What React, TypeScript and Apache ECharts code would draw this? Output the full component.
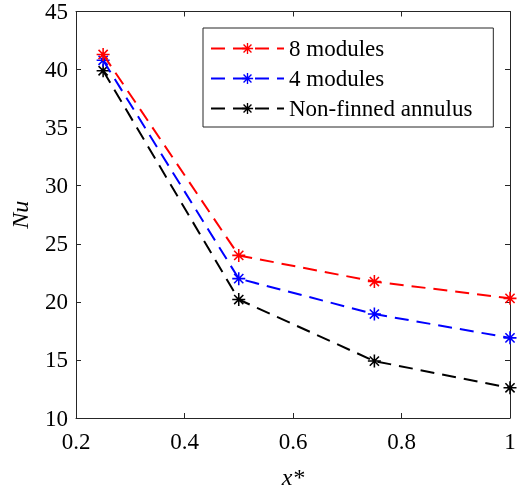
import React, { useEffect, useRef } from "react";
import * as echarts from "echarts";

const xValues = [0.25, 0.5, 0.75, 1];
const seriesNames = ["8 modules", "4 modules", "Non-finned annulus"];
const nu8 = [41.3, 24.0, 21.75, 20.3];
const nu4 = [40.8, 22.0, 18.95, 16.9];
const nuNone = [39.9, 20.2, 14.9, 12.6];
const colors = ["#ff0000", "#0000ff", "#000000"];
const xTicks = { min: 0.2, max: 1, interval: 0.2 };
const yTicks = { min: 10, max: 45, interval: 5 };

function asteriskPath(): string {
  const w = 0.12;
  let d = "";
  for (const deg of [0, 45, 90, 135]) {
    const a = (deg * Math.PI) / 180;
    const dx = Math.cos(a), dy = Math.sin(a);
    const nx = -dy * w, ny = dx * w;
    const pts = [
      [dx + nx, dy + ny],
      [dx - nx, dy - ny],
      [-dx - nx, -dy - ny],
      [-dx + nx, -dy + ny],
    ].map(([x, y]) => `${(x + 1).toFixed(4)} ${(y + 1).toFixed(4)}`);
    d += `M${pts[0]}L${pts[1]}L${pts[2]}L${pts[3]}Z`;
  }
  return "path://" + d;
}

export default function App() {
  const ref = useRef<HTMLDivElement>(null);
  useEffect(() => {
    if (!ref.current) return;
    const chart = echarts.init(ref.current, null, { renderer: "svg" });
    const font = "Liberation Serif";
    const axisColor = "#262626";
    const star = asteriskPath();
    const data = [nu8, nu4, nuNone];
    const fmt = (v: number) => String(+v.toFixed(1));
    const lineCfg = { show: true, lineStyle: { color: axisColor, width: 1 } };
    const tickCfg = { show: true, inside: true, length: 5, lineStyle: { color: axisColor } };
    chart.setOption({
      animation: false,
      grid: { left: 74, right: 10, top: 10, bottom: 74 },
      legend: {
        left: 203,
        top: 28,
        orient: "vertical",
        itemWidth: 73,
        itemHeight: 14,
        itemGap: 7,
        padding: [9, 21, 7, 7],
        borderColor: "#262626",
        borderWidth: 1,
        backgroundColor: "#ffffff",
        textStyle: { fontFamily: font, fontSize: 23, color: "#000000" },
        data: seriesNames,
      },
      xAxis: [
        {
          type: "value",
          min: xTicks.min,
          max: xTicks.max,
          interval: xTicks.interval,
          axisLine: lineCfg,
          axisTick: tickCfg,
          splitLine: { show: false },
          name: "x*",
          nameLocation: "middle",
          nameGap: 47,
          nameTextStyle: { fontFamily: font, fontSize: 24, fontStyle: "italic", color: "#000" },
          axisLabel: { fontFamily: font, fontSize: 23, color: "#000", margin: 12, formatter: fmt },
        },
        {
          type: "value",
          position: "top",
          min: xTicks.min,
          max: xTicks.max,
          interval: xTicks.interval,
          axisLine: lineCfg,
          axisTick: tickCfg,
          splitLine: { show: false },
          axisLabel: { show: false },
        },
      ],
      yAxis: [
        {
          type: "value",
          min: yTicks.min,
          max: yTicks.max,
          interval: yTicks.interval,
          axisLine: lineCfg,
          axisTick: tickCfg,
          splitLine: { show: false },
          name: "Nu",
          nameLocation: "middle",
          nameGap: 44,
          nameTextStyle: { fontFamily: font, fontSize: 24, fontStyle: "italic", color: "#000" },
          axisLabel: { fontFamily: font, fontSize: 23, color: "#000", margin: 8 },
        },
        {
          type: "value",
          position: "right",
          min: yTicks.min,
          max: yTicks.max,
          interval: yTicks.interval,
          axisLine: lineCfg,
          axisTick: tickCfg,
          splitLine: { show: false },
          axisLabel: { show: false },
        },
      ],
      series: seriesNames.map((name, i) => ({
        name,
        type: "line",
        data: xValues.map((x, j) => [x, data[i][j]]),
        symbol: star,
        symbolSize: 13,
        showAllSymbol: true,
        lineStyle: { color: colors[i], width: 2, type: [14, 8] },
        itemStyle: { color: colors[i] },
        z: 3 - i,
      })),
    });
    return () => chart.dispose();
  }, []);
  return (
    <div
      ref={ref}
      style={{ position: "fixed", left: 0, top: 0, width: 520, height: 494 }}
    />
  );
}
